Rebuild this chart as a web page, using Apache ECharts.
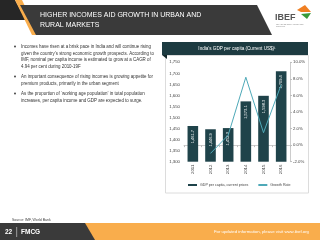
<!DOCTYPE html>
<html>
<head>
<meta charset="utf-8">
<script src="https://cdn.jsdelivr.net/npm/echarts@6/dist/echarts.min.js"></script>
<style>
  html, body { margin: 0; padding: 0; background: #fff; }
  #main { width: 320px; height: 240px; }
</style>
</head>
<body>
<div id="main"></div>
<script>
// data
const years = ['2011', '2012', '2013', '2014', '2015', '2016'];
const gdpPerCapita = [1461.7, 1446.9, 1452.2, 1573.1, 1598.3, 1709.4];
const growthRate = [null, -1.0, 1.2, 8.2, 1.5, 7.3];
const leftTicks = { min: 1300, max: 1750, step: 50 };
const rightTicks = { min: -2, max: 10, step: 2 };

const bullets = [
  ['Incomes have risen at a brisk pace in India and will continue rising',
   'given the country\u2019s strong economic growth prospects. According to',
   'IMF, nominal per capita income is estimated to grow at a CAGR of',
   '4.94 per cent during 2010-19F'],
  ['An important consequence of rising incomes is growing appetite for',
   'premium products, primarily in the urban segment'],
  ['As the proportion of \u2018working age population\u2019 in total population',
   'increases, per capita income and GDP are expected to surge.']
];
const bulletTop = [46.5, 76.5, 93.5];

const FONT = '"Liberation Sans", Arial, sans-serif';
const barColor = '#1f434a';
const lineColor = '#4ea9b8';
const orange = '#f9ad4c';
const headGray = '#3a3a3a';

let graphics = [];

// header
graphics.push({ type: 'polygon', shape: { points: [[0, 0], [15, 0], [26, 20], [0, 20]] }, style: { fill: '#262626' } });
graphics.push({ type: 'polygon', shape: { points: [[15, 0], [22, 0], [39, 35], [32, 35]] }, style: { fill: orange } });
graphics.push({ type: 'polygon', shape: { points: [[20, 5], [257, 5], [272, 35], [36, 35]] }, style: { fill: headGray } });
graphics.push({ type: 'text', x: 40, y: 15, style: { text: 'HIGHER INCOMES AID GROWTH IN URBAN AND', fill: '#fff', font: '7px ' + FONT, verticalAlign: 'middle' } });
graphics.push({ type: 'text', x: 40, y: 25, style: { text: 'RURAL MARKETS', fill: '#fff', font: '7px ' + FONT, verticalAlign: 'middle' } });

// IBEF logo
graphics.push({ type: 'text', x: 275, y: 18, style: { text: 'IBEF', fill: '#555', font: 'bold 9px ' + FONT, verticalAlign: 'middle' } });
graphics.push({ type: 'polygon', shape: { points: [[297, 10], [305, 5], [311, 12], [301, 12]] }, style: { fill: '#f07f22' } });
graphics.push({ type: 'polygon', shape: { points: [[301, 14], [311, 13], [307, 19]] }, style: { fill: '#3a9a3a' } });
graphics.push({ type: 'text', x: 276, y: 24.5, style: { text: 'INDIA BRAND EQUITY FOUNDATION', fill: '#888', font: '1.6px ' + FONT, verticalAlign: 'middle' } });
graphics.push({ type: 'text', x: 276, y: 27, style: { text: 'www.ibef.org', fill: '#888', font: '1.6px ' + FONT, verticalAlign: 'middle' } });

// bullets
bullets.forEach(function (lines, i) {
  graphics.push({ type: 'circle', shape: { cx: 15, cy: bulletTop[i], r: 0.9 }, style: { fill: '#333' } });
  lines.forEach(function (t, j) {
    graphics.push({ type: 'text', x: 21, y: bulletTop[i] + j * 6.8, style: { text: t, fill: '#333', font: '4.45px ' + FONT, verticalAlign: 'middle' } });
  });
});

// chart panel
graphics.push({ type: 'rect', shape: { x: 165.5, y: 55.5, width: 143, height: 137.5 }, style: { fill: '#fff', stroke: '#dcdcdc', lineWidth: 1 }, z: -1 });
graphics.push({ type: 'rect', shape: { x: 162, y: 42, width: 146, height: 13 }, style: { fill: '#1d3b41' } });
graphics.push({ type: 'polygon', shape: { points: [[162, 55], [167, 55], [167, 59]] }, style: { fill: '#12262a' } });
graphics.push({ type: 'text', x: 237, y: 49, style: { text: 'India\u2019s GDP per capita (Current US$)\u00b9', fill: '#fff', font: '4.6px ' + FONT, align: 'center', verticalAlign: 'middle' } });

// source + footer
graphics.push({ type: 'text', x: 12, y: 220, style: { text: 'Source: IMF, World Bank', fill: '#444', font: '3.5px ' + FONT, verticalAlign: 'middle' } });
graphics.push({ type: 'rect', shape: { x: 0, y: 223, width: 320, height: 17 }, style: { fill: orange } });
graphics.push({ type: 'polygon', shape: { points: [[0, 223], [85, 223], [95, 240], [0, 240]] }, style: { fill: headGray } });
graphics.push({ type: 'text', x: 5, y: 232, style: { text: '22', fill: '#fff', font: 'bold 6.5px ' + FONT, verticalAlign: 'middle' } });
graphics.push({ type: 'rect', shape: { x: 16.5, y: 227, width: 0.6, height: 10 }, style: { fill: '#ddd' } });
graphics.push({ type: 'text', x: 21, y: 232, style: { text: 'FMCG', fill: '#fff', font: 'bold 6.5px ' + FONT, verticalAlign: 'middle' } });
graphics.push({ type: 'text', x: 309, y: 232, style: { text: 'For updated information, please visit www.ibef.org', fill: '#fff', font: '4.3px ' + FONT, align: 'right', verticalAlign: 'middle' } });

const axisFont = { fontFamily: FONT, fontSize: 4.3, color: '#404040' };

const option = {
  backgroundColor: '#fff',
  animation: false,
  graphic: graphics,
  grid: { left: 184, right: 30, top: 62.3, bottom: 78.3, containLabel: false },
  legend: {
    left: 188, top: 183, padding: 0,
    itemWidth: 9, itemHeight: 2, itemGap: 10,
    textStyle: { fontFamily: FONT, fontSize: 3.6, color: '#404040', padding: [0, 0, 0, -2] },
    data: [
      { name: 'GDP per capita, current prices', icon: 'rect' },
      { name: 'Growth Rate', icon: 'rect' }
    ]
  },
  xAxis: {
    type: 'category',
    data: years,
    axisLine: { lineStyle: { color: '#bfbfbf', width: 0.8 } },
    axisTick: { show: true, length: 2, lineStyle: { color: '#bfbfbf' } },
    axisLabel: Object.assign({ rotate: 90, margin: 3 }, axisFont)
  },
  yAxis: [
    {
      type: 'value', min: leftTicks.min, max: leftTicks.max, interval: leftTicks.step,
      axisLine: { show: false }, axisTick: { show: false }, splitLine: { show: false },
      axisLabel: Object.assign({ margin: 4, formatter: function (v) { return v.toLocaleString('en-US'); } }, axisFont)
    },
    {
      type: 'value', min: rightTicks.min, max: rightTicks.max, interval: rightTicks.step,
      axisLine: { show: true, lineStyle: { color: '#bfbfbf', width: 0.8 } },
      axisTick: { show: true, length: 2, lineStyle: { color: '#bfbfbf' } },
      splitLine: { show: false },
      axisLabel: Object.assign({ margin: 3, formatter: function (v) { return v.toFixed(1) + '%'; } }, axisFont)
    }
  ],
  series: [
    {
      name: 'GDP per capita, current prices',
      type: 'bar',
      data: gdpPerCapita,
      barWidth: '60%',
      itemStyle: { color: barColor },
      label: {
        show: true, position: 'insideTop', rotate: 90, align: 'right', verticalAlign: 'middle',
        distance: 4, color: '#fff', fontFamily: FONT, fontSize: 4,
        formatter: function (p) { return p.value.toLocaleString('en-US', { minimumFractionDigits: 1, maximumFractionDigits: 1 }); }
      }
    },
    {
      name: 'Growth Rate',
      type: 'line',
      yAxisIndex: 1,
      data: growthRate,
      symbol: 'none',
      lineStyle: { color: lineColor, width: 1 },
      itemStyle: { color: lineColor }
    }
  ]
};

const chart = echarts.init(document.getElementById('main'));
chart.setOption(option);
</script>
</body>
</html>
